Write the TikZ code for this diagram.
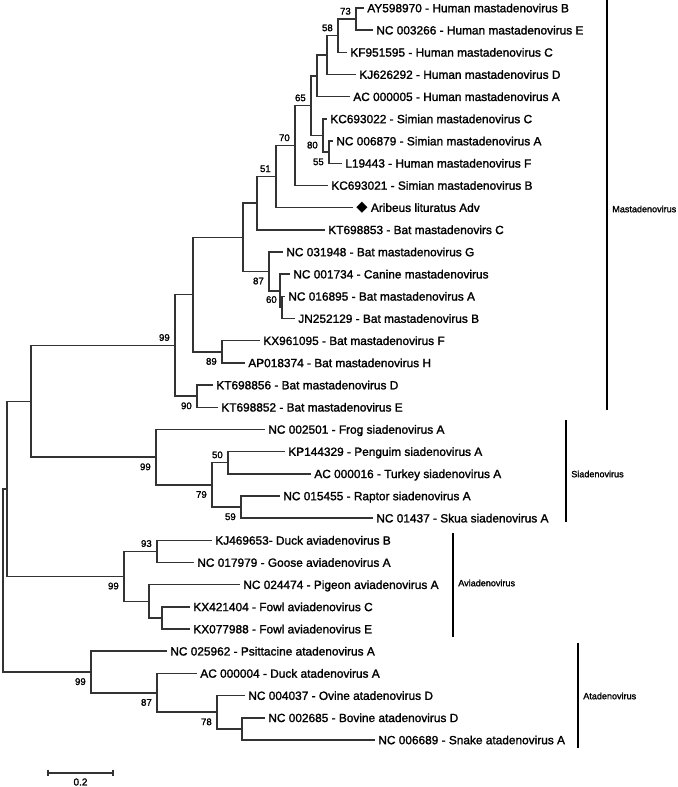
\documentclass[tikz,border=0pt]{standalone}
\usepackage{fontspec}
\setmainfont{Liberation Sans}[RawFeature={embolden=1.6}]
\newfontfamily\symfont{DejaVu Sans}
\usetikzlibrary{positioning}

\tikzset{
  br/.style={draw=black!80, line width=1.1pt},
  cbar/.style={draw=black, line width=0.8pt},
  leaf/.style={anchor=west, inner xsep=2.3pt, inner ysep=0pt, text height=6.4pt, text depth=0pt, font=\fontsize{8.9}{10}\selectfont},
  bs/.style={anchor=east, inner sep=0pt, text height=5.2pt, text depth=0pt, font=\fontsize{7.2}{8}\selectfont},
  bsa/.style={bs, xshift=-3.75pt, yshift=6pt},
  bsb/.style={bs, xshift=-3.75pt, yshift=-7.1pt},
  clade/.style={anchor=west, inner sep=0pt, font=\fontsize{6.8}{8}\selectfont}
}

\begin{document}
\begin{tikzpicture}[x=0.75pt, y=-0.75pt]
    \useasboundingbox (0,0) rectangle (677,787);
    % inner nodes
    \coordinate (a73) at (356,19.1);
    \coordinate (a58) at (338,35.7);
    \coordinate (c1) at (327,55.1);
    \coordinate (c2) at (317,75.9);
    \coordinate (a55) at (329,152.2);
    \coordinate (a80) at (323,135.5);
    \coordinate (a65) at (311,105.7);
    \coordinate (a70) at (295,145.6);
    \coordinate (a51) at (276,176.6);
    \coordinate (c3) at (257,203.2);
    \coordinate (a60) at (282,307.4);
    \coordinate (c4) at (280,290.8);
    \coordinate (a87) at (269,271.4);
    \coordinate (c5) at (243,237.3);
    \coordinate (a89) at (222,351.8);
    \coordinate (c6) at (193,294.5);
    \coordinate (a90) at (197,396.2);
    \coordinate (m99) at (175,345.4);
    \coordinate (a50) at (228,462.7);
    \coordinate (a59) at (241,507.1);
    \coordinate (a79) at (212,484.9);
    \coordinate (s99) at (156,457.2);
    \coordinate (c7) at (31,401.3);
    \coordinate (a93) at (157,551.4);
    \coordinate (c8) at (162,618);
    \coordinate (c9) at (149,601.3);
    \coordinate (v99) at (124,576.4);
    \coordinate (c10) at (7,488.8);
    \coordinate (c11) at (242,728.9);
    \coordinate (a78) at (217,712.2);
    \coordinate (a87b) at (157,692.8);
    \coordinate (t99) at (91,672);
    \coordinate (root) at (3,580.4);

    % leaves
    \foreach \p/\x/\t [count=\i] in {
        a73/364/AY598970 - Human mastadenovirus B,
        a73/373/NC 003266 - Human mastadenovirus E,
        a58/347/KF951595 - Human mastadenovirus C,
        c1/356/KJ626292 - Human mastadenovirus D,
        c2/350/AC 000005 - Human mastadenovirus A,
        a80/327/KC693022 - Simian mastadenovirus C,
        a55/333/NC 006879 - Simian mastadenovirus A,
        a55/342/L19443 - Human mastadenovirus F,
        a70/328/KC693021 - Simian mastadenovirus B,
        a51/353/{\symfont\fontsize{11}{11}\selectfont ◆} Aribeus lituratus Adv,
        c3/325/KT698853 - Bat mastadenovirs C,
        a87/283/NC 031948 - Bat mastadenovirus G,
        c4/290/NC 001734 - Canine mastadenovirus,
        a60/285/NC 016895 - Bat mastadenovirus A,
        a60/295/JN252129 - Bat mastadenovirus B,
        a89/260/KX961095 - Bat mastadenovirus F,
        a89/245/AP018374 - Bat mastadenovirus H,
        a90/213/KT698856 - Bat mastadenovirus D,
        a90/218/KT698852 - Bat mastadenovirus E,
        s99/265/NC 002501 - Frog siadenovirus A,
        a50/285/KP144329 - Penguim siadenovirus A,
        a50/311/AC 000016 - Turkey siadenovirus A,
        a59/280/NC 015455 - Raptor siadenovirus A,
        a59/373/NC 01437 - Skua siadenovirus A,
        a93/212/KJ469653- Duck aviadenovirus B,
        a93/194/NC 017979 - Goose aviadenovirus A,
        c9/240/NC 024474 - Pigeon aviadenovirus A,
        c8/190/KX421404 - Fowl aviadenovirus C,
        c8/190/KX077988 - Fowl aviadenovirus E,
        t99/167/NC 025962 - Psittacine atadenovirus A,
        a87b/197/AC 000004 - Duck atadenovirus A,
        a78/245/NC 004037 - Ovine atadenovirus D,
        c11/265/NC 002685 - Bovine atadenovirus D,
        c11/375/NC 006689 - Snake atadenovirus A} {
        \node[leaf] (l\i) at (\x,{8+22.18*(\i-1)}) {\t};
        \draw[br] (\p) |- (l\i.west);
    }

    % inner branches
    \foreach \p/\c in {a58/a73, c1/a58, c2/c1, a65/c2, a80/a55, a65/a80, a70/a65,
        a51/a70, c3/a51, c5/c3, c4/a60, a87/c4, c5/a87, c6/c5, c6/a89, m99/c6,
        m99/a90, c7/m99, a79/a50, a79/a59, s99/a79, c7/s99, c10/c7, c9/c8,
        v99/a93, v99/c9, c10/v99, root/c10, a78/c11, a87b/a78, t99/a87b, root/t99} {
        \draw[br] (\p) |- (\c);
    }

    % bootstrap values
    \foreach \n/\v in {a73/73, a58/58, a65/65, a70/70, a51/51, a60/60, m99/99, a50/50, a93/93} {
        \node[bsa] (b\n) at (\n) {\v};
    }
    \foreach \n/\v in {a80/80, a55/55, a87/87, a89/89, a90/90, s99/99, a79/79, a59/59,
        v99/99, t99/99, a87b/87, a78/78} {
        \node[bsb] (b\n) at (\n) {\v};
    }

    % clades
    \coordinate (mt) at (607,0);
    \coordinate (mb) at (607,410);
    \coordinate (st) at (566,420);
    \coordinate (sb) at (566,522);
    \coordinate (vt) at (453,533);
    \coordinate (vb) at (453,637);
    \coordinate (at) at (578,643);
    \coordinate (ab) at (578,748);
    \draw[cbar] (mt) -- (mb);
    \draw[cbar] (st) -- (sb);
    \draw[cbar] (vt) -- (vb);
    \draw[cbar] (at) -- (ab);
    \node[clade] (mlab) at (612,209) {Mastadenovirus};
    \node[clade] (slab) at (571,474) {Siadenovirus};
    \node[clade] (vlab) at (458,583) {Aviadenovirus};
    \node[clade] (alab) at (583,696) {Atadenovirus};

    % scale
    \coordinate (s0) at (48,773);
    \coordinate (s1) at (113,773);
    \draw[br] (s0) -- (s1);
    \draw[br] ([yshift=2.6pt]s0) -- ([yshift=-2.6pt]s0);
    \draw[br] ([yshift=2.6pt]s1) -- ([yshift=-2.6pt]s1);
    \node[bs, anchor=center, font=\fontsize{7.5}{8}\selectfont] (scl) at (80.5,782) {0.2};
\end{tikzpicture}
\end{document}
